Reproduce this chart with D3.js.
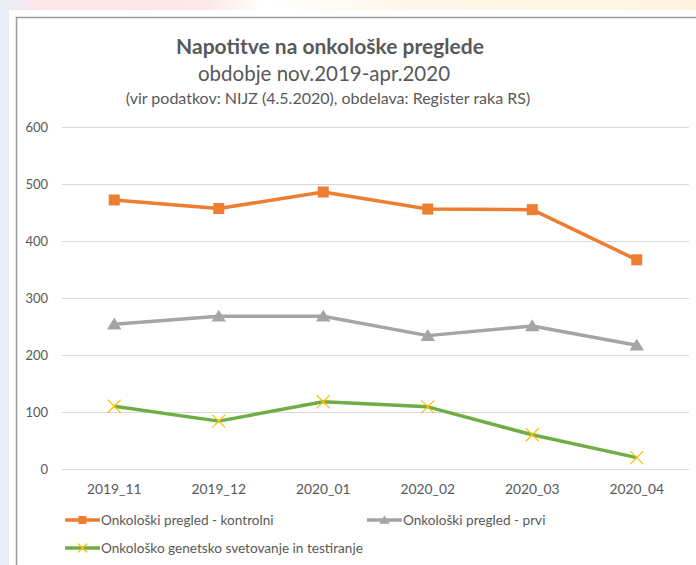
<!DOCTYPE html>
<html>
<head>
<meta charset="utf-8">
<script src="https://cdn.jsdelivr.net/npm/d3@7"></script>
<style>
  body { margin: 0; background: #fff; }
  svg text { font-family: Lato, "Open Sans", sans-serif; fill: #595959; }
</style>
</head>
<body>
<div id="chart"></div>
<script>
var months = ["2019_11", "2019_12", "2020_01", "2020_02", "2020_03", "2020_04"];
var kontrolni = [472, 457, 486, 456, 455, 367];
var prvi = [254, 268, 268, 234, 251, 217];
var genetsko = [110, 84, 118, 109, 60, 20];
var yTicks = [0, 100, 200, 300, 400, 500, 600];
var seriesNames = ["Onkološki pregled - kontrolni", "Onkološki pregled - prvi", "Onkološko genetsko svetovanje in testiranje"];

var W = 696, H = 565;
var svg = d3.select("#chart").append("svg")
    .attr("width", W)
    .attr("height", H);

// page background (blurred slide behind the chart)
var defs = svg.append("defs");
var grad = defs.append("linearGradient").attr("id", "topband");
[["0%", "#e6edf6"], ["6%", "#fbe6e8"], ["30%", "#fde8e8"], ["38%", "#ffffff"], ["58%", "#fff7ea"], ["100%", "#fff4e0"]]
  .forEach(function (s) { grad.append("stop").attr("offset", s[0]).attr("stop-color", s[1]); });
svg.append("rect").attr("width", W).attr("height", 10).attr("fill", "url(#topband)");
svg.append("rect").attr("y", 10).attr("width", 9).attr("height", H - 10).attr("fill", "#e6edf6");

// chart frame
svg.append("rect").attr("x", 9).attr("y", 10).attr("width", W - 9).attr("height", H - 10).attr("fill", "#fff");
svg.append("path")
    .attr("d", "M16.5," + H + "V17.5H" + W)
    .attr("fill", "none")
    .attr("stroke", "#9a9a9a")
    .attr("stroke-width", 1.5);

// title
svg.append("text").attr("x", 330).attr("y", 54).attr("text-anchor", "middle")
    .style("font-size", "21px").style("font-weight", "bold").text("Napotitve na onkološke preglede");
svg.append("text").attr("x", 324).attr("y", 81).attr("text-anchor", "middle")
    .style("font-size", "20.5px").text("obdobje nov.2019-apr.2020");
svg.append("text").attr("x", 328).attr("y", 104).attr("text-anchor", "middle")
    .style("font-size", "16px").text("(vir podatkov: NIJZ (4.5.2020), obdelava: Register raka RS)");

// scales
var x = d3.scaleBand().domain(months).range([62, 689]);
var y = d3.scaleLinear().domain([0, 600]).range([469, 127]);

// grid + y labels
var yAxis = svg.append("g")
    .attr("transform", "translate(62,0)")
    .call(d3.axisLeft(y).tickValues(yTicks).tickSize(-627).tickPadding(14));
yAxis.select(".domain").remove();
yAxis.selectAll(".tick line").attr("stroke", "#d9d9d9").attr("stroke-width", 1);
yAxis.selectAll(".tick text").style("font-size", "13px").attr("fill", "#595959");

// x labels
var xAxis = svg.append("g")
    .attr("transform", "translate(0,469)")
    .call(d3.axisBottom(x).tickSize(0).tickPadding(15));
xAxis.select(".domain").remove();
xAxis.selectAll(".tick text").style("font-size", "13.8px").attr("fill", "#595959");

var cx = function (d, i) { return x(months[i]) + x.bandwidth() / 2; };
var line = d3.line().x(function (d, i) { return cx(d, i); }).y(function (d) { return y(d); });

var series = [
  {name: seriesNames[0], values: kontrolni, color: "#ED7D31", marker: "square"},
  {name: seriesNames[1], values: prvi, color: "#A5A5A5", marker: "triangle"},
  {name: seriesNames[2], values: genetsko, color: "#70AD47", marker: "cross"}
];

function drawMarker(g, type, color, size) {
  if (type === "square") {
    g.append("rect").attr("x", -size / 2).attr("y", -size / 2).attr("width", size).attr("height", size).attr("fill", color);
  } else if (type === "triangle") {
    var s = size * 0.6;
    g.append("path").attr("d", "M0," + (-s) + "L" + (s * 1.1) + "," + (s * 0.8) + "L" + (-s * 1.1) + "," + (s * 0.8) + "Z").attr("fill", color);
  } else {
    var c = size / 2;
    g.append("path").attr("d", "M" + (-c) + "," + (-c) + "L" + c + "," + c + "M" + (-c) + "," + c + "L" + c + "," + (-c))
      .attr("stroke", "#FFC000").attr("stroke-width", 1.3).attr("fill", "none");
  }
}

series.forEach(function (s) {
  svg.append("path")
      .datum(s.values)
      .attr("d", line)
      .attr("fill", "none")
      .attr("stroke", s.color)
      .attr("stroke-width", 3.5)
      .attr("stroke-linejoin", "round");
  s.values.forEach(function (v, i) {
    var g = svg.append("g").attr("transform", "translate(" + cx(v, i) + "," + y(v) + ")");
    drawMarker(g, s.marker, s.color, s.marker === "cross" ? 13 : 11);
  });
});

// legend
var legendPos = [[65, 520], [367, 520], [65, 548]];
series.forEach(function (s, i) {
  var g = svg.append("g").attr("transform", "translate(" + legendPos[i][0] + "," + legendPos[i][1] + ")");
  g.append("line").attr("x1", 0).attr("x2", 35).attr("stroke", s.color).attr("stroke-width", 3.5);
  var m = g.append("g").attr("transform", "translate(17.5,0)");
  drawMarker(m, s.marker, s.color, s.marker === "cross" ? 9 : 8);
  g.append("text").attr("x", 36).attr("y", 4.5).style("font-size", "13.6px").text(s.name);
});
</script>
</body>
</html>
